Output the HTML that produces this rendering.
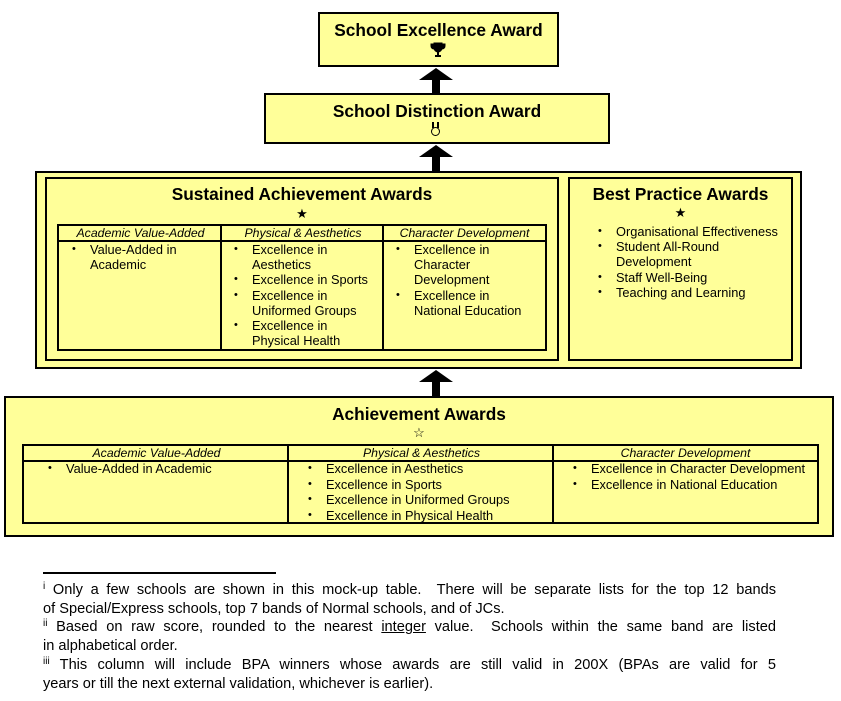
<!DOCTYPE html>
<html><head><meta charset="utf-8"><style>
*{box-sizing:border-box;margin:0;padding:0}
body{width:841px;height:701px;background:#fff;position:relative;font-family:"Liberation Sans",Arial,sans-serif;color:#000;overflow:hidden}
.a{position:absolute}
.box{position:absolute;background:#ffff99;border:2px solid #000}
.t{position:absolute;font-weight:bold;font-size:17.3px;text-align:center;left:0;right:0}
.h{position:absolute;font-style:italic;font-size:12.3px;text-align:center;border-bottom:2px solid #000;height:16px;line-height:14px;top:0}
.c{position:absolute;border-right:2px solid #000;top:0;bottom:0}
ul{list-style:none;position:absolute;font-size:12.8px;line-height:15.2px;white-space:nowrap}
li{position:relative}
li:before{content:"•";position:absolute;left:-18px;font-size:11px}
.fn{position:absolute;left:43px;width:733px;font-size:14.6px;line-height:18.7px;white-space:nowrap}
.j{display:block;text-align:justify;text-align-last:justify;white-space:normal}
sup{font-size:10px;vertical-align:5px;line-height:0}
</style></head><body>

<div class="box" style="left:318px;top:12px;width:241px;height:55px">
<div class="t" style="top:6px">School Excellence Award</div>
<svg class="a" style="left:110px;top:28px" width="16" height="16" viewBox="0 0 16 16"><path d="M4 1h8v5a4 4 0 0 1-8 0z M4 2H1v2a3 3 0 0 0 3 3 M12 2h3v2a3 3 0 0 1-3 3" fill="#000" stroke="#000" stroke-width="1"/><rect x="7" y="9" width="2" height="4"/><rect x="5" y="13" width="6" height="2"/></svg>
</div>
<div class="a" style="left:419px;top:68px;width:0;height:0;border-left:17px solid transparent;border-right:17px solid transparent;border-bottom:12px solid #000"></div>
<div class="a" style="left:432px;top:79px;width:8px;height:15px;background:#000"></div>

<div class="box" style="left:264px;top:93px;width:346px;height:51px">
<div class="t" style="top:6px">School Distinction Award</div>
<div class="a" style="left:166px;top:27px;width:7px;height:6px;border-left:2px solid #000;border-right:2px solid #000"></div>
<div class="a" style="left:165px;top:32px;width:9px;height:9px;border:1.5px solid #000;border-radius:50%"></div>
</div>
<div class="a" style="left:419px;top:145px;width:0;height:0;border-left:17px solid transparent;border-right:17px solid transparent;border-bottom:12px solid #000"></div>
<div class="a" style="left:432px;top:156px;width:8px;height:16px;background:#000"></div>

<div class="box" style="left:35px;top:171px;width:767px;height:198px"></div>
<div class="box" style="left:45px;top:177px;width:514px;height:184px">
<div class="t" style="top:5px">Sustained Achievement Awards</div>
<div class="a" style="left:0;right:0;top:27px;text-align:center;font-size:13px">★</div>
<div class="box" style="left:10px;top:45px;width:490px;height:127px">
 <div class="h" style="left:0;width:163px">Academic Value-Added</div>
 <div class="h" style="left:163px;width:162px">Physical &amp; Aesthetics</div>
 <div class="h" style="left:325px;width:161px">Character Development</div>
 <div class="c" style="left:161px"></div><div class="c" style="left:323px"></div>
 <ul style="left:31px;top:16px"><li>Value-Added in<br>Academic</li></ul>
 <ul style="left:193px;top:16px"><li>Excellence in<br>Aesthetics</li><li>Excellence in Sports</li><li>Excellence in<br>Uniformed Groups</li><li>Excellence in<br>Physical Health</li></ul>
 <ul style="left:355px;top:16px"><li>Excellence in<br>Character<br>Development</li><li>Excellence in<br>National Education</li></ul>
</div>
</div>
<div class="box" style="left:568px;top:177px;width:225px;height:184px">
<div class="t" style="top:5px">Best Practice Awards</div>
<div class="a" style="left:0;right:0;top:26px;text-align:center;font-size:13px">★</div>
<ul style="left:46px;top:45px"><li>Organisational Effectiveness</li><li>Student All-Round<br>Development</li><li>Staff Well-Being</li><li>Teaching and Learning</li></ul>
</div>

<div class="a" style="left:419px;top:370px;width:0;height:0;border-left:17px solid transparent;border-right:17px solid transparent;border-bottom:12px solid #000"></div>
<div class="a" style="left:432px;top:381px;width:8px;height:16px;background:#000"></div>

<div class="box" style="left:4px;top:396px;width:830px;height:141px">
<div class="t" style="top:6px">Achievement Awards</div>
<div class="a" style="left:0;right:0;top:27px;text-align:center;font-size:13px">☆</div>
<div class="box" style="left:16px;top:46px;width:797px;height:80px">
 <div class="h" style="left:0;width:265px">Academic Value-Added</div>
 <div class="h" style="left:265px;width:265px">Physical &amp; Aesthetics</div>
 <div class="h" style="left:530px;width:263px">Character Development</div>
 <div class="c" style="left:263px"></div><div class="c" style="left:528px"></div>
 <ul style="left:42px;top:15px;line-height:15.6px"><li>Value-Added in Academic</li></ul>
 <ul style="left:302px;top:15px;line-height:15.6px"><li>Excellence in Aesthetics</li><li>Excellence in Sports</li><li>Excellence in Uniformed Groups</li><li>Excellence in Physical Health</li></ul>
 <ul style="left:567px;top:15px;line-height:15.6px"><li>Excellence in Character Development</li><li>Excellence in National Education</li></ul>
</div>
</div>

<div class="a" style="left:43px;top:572px;width:233px;height:2px;background:#000"></div>
<div class="fn" style="top:581px"><span class="j"><sup>i</sup> Only a few schools are shown in this mock-up table.&nbsp; There will be separate lists for the top 12 bands</span>of Special/Express schools, top 7 bands of Normal schools, and of JCs.</div>
<div class="fn" style="top:618px"><span class="j"><sup>ii</sup> Based on raw score, rounded to the nearest <u>integer</u> value.&nbsp; Schools within the same band are listed</span>in alphabetical order.</div>
<div class="fn" style="top:656px"><span class="j"><sup>iii</sup> This column will include BPA winners whose awards are still valid in 200X (BPAs are valid for 5</span>years or till the next external validation, whichever is earlier).</div>
</body></html>
